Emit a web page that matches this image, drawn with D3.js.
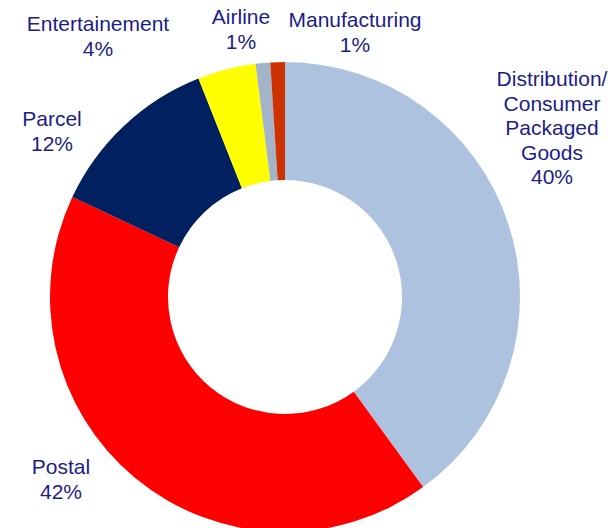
<!DOCTYPE html>
<html>
<head>
<meta charset="utf-8">
<script src="https://cdn.jsdelivr.net/npm/d3@7"></script>
<style>
  html, body { margin: 0; padding: 0; background: #ffffff; }
  svg { display: block; }
</style>
</head>
<body>
<script>
// Market share by segment, clockwise from 12 o'clock
const segments = ["Distribution/ Consumer Packaged Goods", "Postal", "Parcel", "Entertainement", "Airline", "Manufacturing"];
const shares = [40, 42, 12, 4, 1, 1];
const colors = ["#ADC2DE", "#FF0000", "#002060", "#FFFF00", "#A3B3C8", "#CC3300"];

// Label text lines for each segment
const labelLines = [
  ["Distribution/", "Consumer", "Packaged", "Goods"],
  ["Postal"],
  ["Parcel"],
  ["Entertainement"],
  ["Airline"],
  ["Manufacturing"]
];
// Label anchor (centre x, first baseline y) for each segment
const labelAnchor = [
  [552, 86], [61, 474], [52, 126], [98, 31], [241, 24], [355, 27]
];

const width = 608, height = 528;
const cx = 285, cy = 297;
const outerR = 235, innerR = 117;

const svg = d3.select("body").append("svg")
  .attr("width", width).attr("height", height);

const pie = d3.pie().sort(null).value(d => d.value);
const arc = d3.arc().innerRadius(innerR).outerRadius(outerR);

const data = segments.map((s, i) => ({ name: s, value: shares[i], color: colors[i], i }));
const arcs = pie(data);

svg.append("g")
  .attr("transform", `translate(${cx},${cy})`)
  .selectAll("path")
  .data(arcs)
  .join("path")
  .attr("d", arc)
  .attr("fill", d => d.data.color);

const lineH = 24.5;
const labels = svg.append("g")
  .attr("font-family", "'Liberation Sans', Arial, sans-serif")
  .attr("font-size", 21)
  .attr("fill", "#1C1C8A")
  .attr("text-anchor", "middle");

data.forEach((d, i) => {
  const [x, y] = labelAnchor[i];
  const lines = labelLines[i].concat([d.value + "%"]);
  const t = labels.append("text").attr("x", x).attr("y", y);
  lines.forEach((ln, k) => {
    t.append("tspan").attr("x", x).attr("y", y + k * lineH).text(ln);
  });
});
</script>
</body>
</html>
